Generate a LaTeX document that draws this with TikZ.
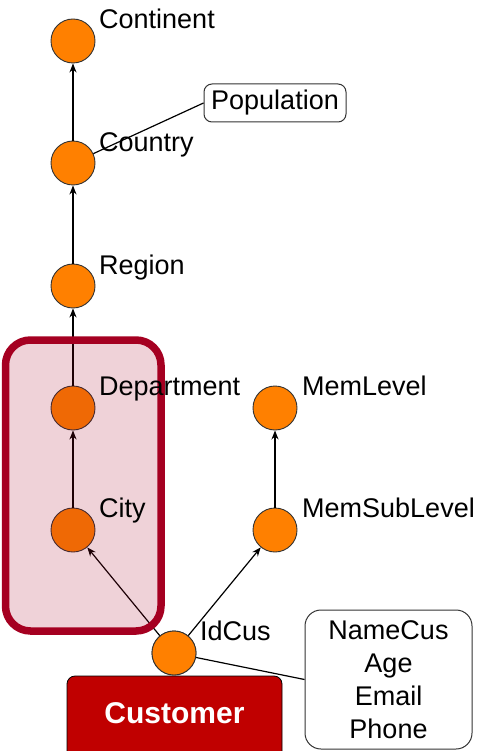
\documentclass[tikz,border=0pt]{standalone}
\usepackage{fontspec}
\setmainfont{Liberation Sans}
\usetikzlibrary{arrows.meta}
\definecolor{lvlorange}{HTML}{FF8000}
\definecolor{grpred}{HTML}{A50021}
\definecolor{custred}{HTML}{C00000}
\definecolor{edgegray}{HTML}{333333}
\begin{document}
\begin{tikzpicture}[x=1pt,y=-1pt,
  level/.style={circle,fill=lvlorange,draw=edgegray,line width=0.9pt,minimum size=44pt,inner sep=0pt},
  lbl/.style={anchor=base west,inner sep=0pt,font=\fontsize{27}{32}\selectfont},
  attr/.style={draw=edgegray,line width=1pt,rounded corners=8pt,fill=white,font=\fontsize{27}{33}\selectfont,align=center},
  rel/.style={line width=1.2pt,-{Stealth[length=9pt,width=7pt]}},
  link/.style={line width=1.2pt}]
\useasboundingbox (0,0) rectangle (482,751);

% hierarchy levels
\node[level] (continent) at (73,41) {};
\node[level] (country) at (73,163) {};
\node[level] (region) at (73,286) {};
\node[level] (dept) at (73,408) {};
\node[level] (city) at (73,530) {};
\node[level] (memlevel) at (275,408) {};
\node[level] (memsub) at (275,530) {};

% attribute boxes
\node[attr,minimum width=142pt,minimum height=38pt,inner sep=0pt] (pop) at (275,103) {Population};
\node[attr,rounded corners=16pt,minimum width=167pt,minimum height=139pt,inner sep=0pt] (custattr) at (388.5,679.5)
  {NameCus\\Age\\Email\\Phone};

% roll-up arrows
\draw[rel] (country) -- (continent);
\draw[rel] (region) -- (country);
\draw[rel] (dept) -- (region);
\draw[rel] (city) -- (dept);
\draw[rel] (memsub) -- (memlevel);
\draw[link] (country) -- (pop.west);

% customer fact
\node[draw=black,line width=0.8pt,fill=custred,rounded corners=8pt,minimum width=215pt,minimum height=84pt,
  text=white,font=\fontsize{30}{36}\selectfont\bfseries] (customer) at (174.5,718) {};
\node[anchor=base,inner sep=0pt,text=white,font=\fontsize{30}{36}\selectfont\bfseries] (custname) at (174.5,723) {Customer};

\node[level] (idcus) at (174,653) {};
\draw[rel] (idcus) -- (city);
\draw[rel] (idcus) -- (memsub);
\draw[link] (idcus) -- (custattr.west);

% highlighted group of levels
\draw[draw=grpred,line width=7.5pt,fill=grpred,fill opacity=0.175,draw opacity=1,rounded corners=25pt]
  (5.5,340) rectangle (161,631);
\node[level] at (idcus) {};

% level names
\node[lbl] (tcontinent) at (99,29) {Continent};
\node[lbl] (tcountry) at (99,152) {Country};
\node[lbl] (tregion) at (99,274) {Region};
\node[lbl] (tdept) at (99,395) {Department};
\node[lbl] (tcity) at (99,517) {City};
\node[lbl] (tmemlevel) at (302,395) {MemLevel};
\node[lbl] (tmemsub) at (302,517) {MemSubLevel};
\node[lbl] (tidcus) at (200,640) {IdCus};
\end{tikzpicture}
\end{document}
